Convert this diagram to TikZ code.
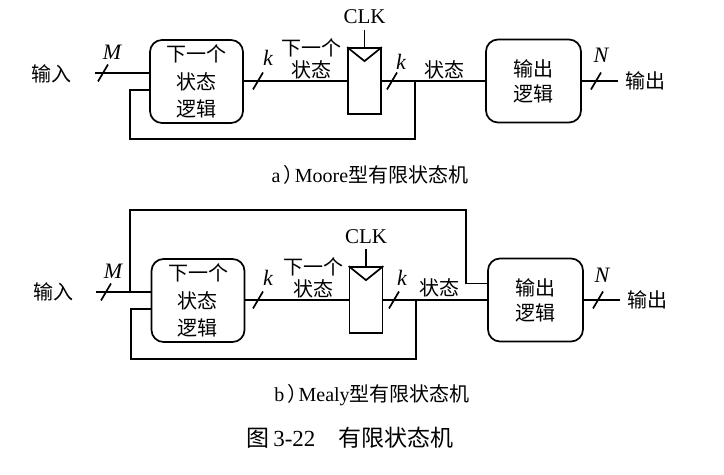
\documentclass[tikz,border=0pt]{standalone}
\usepackage{fontspec}
\setmainfont{Liberation Serif}
\newfontfamily\cjk{Noto Sans CJK SC}
\usetikzlibrary{positioning}

\tikzset{
  logic/.style={draw, rounded corners=6pt, minimum width=46.5pt, minimum height=41.5pt,
    align=center, inner sep=0pt, font=\cjk\fontsize{10}{13.8}\selectfont},
  outlogic/.style={logic, minimum width=47.5pt, font=\cjk\fontsize{10}{12.5}\selectfont},
  reg/.style={draw, minimum width=16.5pt, minimum height=33pt, inner sep=0pt},
  txt/.style={font=\cjk\fontsize{10}{11}\selectfont, align=center, inner sep=0pt},
  bus/.style={font=\fontsize{11}{12}\selectfont\itshape, inner sep=0pt},
  clk/.style={font=\fontsize{10.5}{12}\selectfont, inner sep=0pt},
  busmark/.pic={\draw (-5,8.5) -- (5,-8.5);},
}

\begin{document}
\begin{tikzpicture}[x=0.5pt, y=-0.5pt, line width=0.85pt]
  \useasboundingbox (0,0) rectangle (724,475);

  % a) Moore
  \node[txt] (ina) at (52,74) {输入};
  \node[logic] (nsa) at (196.5,81.5) {下一个\\状态\\逻辑};
  \node[reg] (rega) at (364.5,81) {};
  \node[outlogic] (oa) at (533.5,81) {输出\\逻辑};
  \node[clk] (clka) at (364.5,17) {CLK};
  \node[txt] (nxta) at (311,59) {下一个\\状态};
  \node[txt] (sta) at (444,70) {状态};
  \node[txt] (outa) at (645,81) {输出};
  \node[bus] (Ma) at (112,52) {M};
  \node[bus] (k1a) at (268,58) {k};
  \node[bus] (k2a) at (401,62) {k};
  \node[bus] (Na) at (601,55) {N};
  \coordinate (wina) at (95,73);
  \coordinate (wouta) at (618,81);
  \coordinate (cka) at (364.5,30);
  \coordinate (fba) at (415,81);
  \coordinate (loopa) at (130,139);

  \draw (wina) -- ([yshift=4.25pt]nsa.west);
  \draw (nsa.east |- rega.west) -- (rega.west);
  \draw (rega.east) -- (oa.west);
  \draw (oa.east) -- (wouta);
  \draw (cka) -- (rega.north);
  \draw (rega.north west) -- ([yshift=-7pt]rega.north) -- (rega.north east);
  \draw (fba) |- (loopa) |- ([yshift=-4.25pt]nsa.west);
  \pic at (103,73) {busmark}; \pic at (258,81) {busmark};
  \pic at (392,81) {busmark}; \pic at (596,81) {busmark};

  \node[txt, font=\fontsize{10}{12}\selectfont] (capa) at (370,175) {a\,{\cjk ）}\kern-0.45em Moore{\cjk 型有限状态机}};

  % b) Mealy
  \node[txt] (inb) at (53,292) {输入};
  \node[logic] (nsb) at (198,300.5) {下一个\\状态\\逻辑};
  \node[reg] (regb) at (366,300) {};
  \node[outlogic] (ob) at (535.5,300) {输出\\逻辑};
  \node[clk] (clkb) at (366,237) {CLK};
  \node[txt] (nxtb) at (313,278) {下一个\\状态};
  \node[txt] (stb) at (439,288) {状态};
  \node[txt] (outb) at (647,300) {输出};
  \node[bus] (Mb) at (113,271) {M};
  \node[bus] (k1b) at (268,278) {k};
  \node[bus] (k2b) at (402,278) {k};
  \node[bus] (Nb) at (602,275) {N};
  \coordinate (winb) at (96,292);
  \coordinate (woutb) at (620,300);
  \coordinate (ckb) at (366,249);
  \coordinate (jb) at (130,292);
  \coordinate (topb) at (466,210);
  \coordinate (fbb) at (416,300);
  \coordinate (loopb) at (131,359);

  \draw (winb) -- ([yshift=4.25pt]nsb.west);
  \draw (jb) |- (topb) |- ([yshift=8.25pt]ob.west);
  \draw (nsb.east |- regb.west) -- (regb.west);
  \draw (regb.east) -- (ob.west);
  \draw (ob.east) -- (woutb);
  \draw (ckb) -- (regb.north);
  \draw (regb.north west) -- ([yshift=-7pt]regb.north) -- (regb.north east);
  \draw (fbb) |- (loopb) |- ([yshift=-4.25pt]nsb.west);
  \pic at (106,292) {busmark}; \pic at (258,300) {busmark};
  \pic at (394,300) {busmark}; \pic at (598,300) {busmark};

  \node[txt, font=\fontsize{10}{12}\selectfont] (capb) at (372,395) {b\,{\cjk ）}\kern-0.45em Mealy{\cjk 型有限状态机}};

  \node[txt, font=\fontsize{11.5}{13}\selectfont] (fig) at (350,438) {{\cjk 图}\,3-22\quad{\cjk 有限状态机}};
\end{tikzpicture}
\end{document}
